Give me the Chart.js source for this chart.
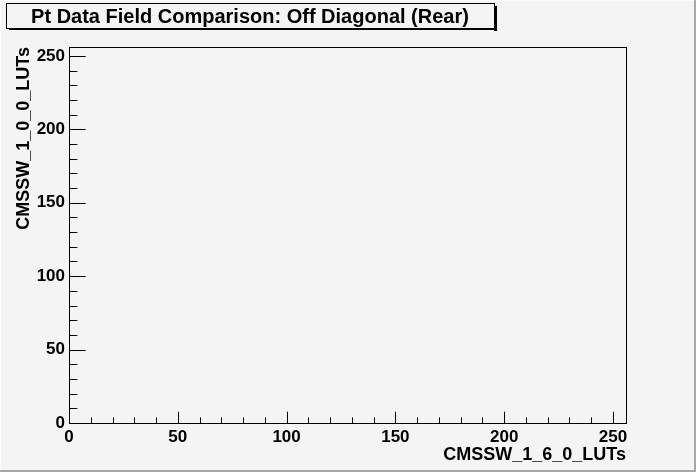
<!DOCTYPE html>
<html lang="en">
<head>
<meta charset="utf-8"/>
<title>Pt Data Field Comparison: Off Diagonal (Rear)</title>
<script src="https://cdn.jsdelivr.net/npm/chart.js"></script>
<style>
  html, body { margin: 0; padding: 0; background: #f4f4f4; }
  canvas { display: block; }
</style>
</head>
<body>
<canvas id="chart" width="696" height="472"></canvas>
<script>
  // histogram content (empty in the reference)
  const title = "Pt Data Field Comparison: Off Diagonal (Rear)";
  const xTitle = "CMSSW_1_6_0_LUTs";
  const yTitle = "CMSSW_1_0_0_LUTs";
  const points = [];
  const axisMin = 0;
  const axisMax = 256;
  const majorTicks = [0, 50, 100, 150, 200, 250];
  const minorTicks = [0, 10, 20, 30, 40, 50, 60, 70, 80, 90, 100, 110, 120, 130, 140,
                      150, 160, 170, 180, 190, 200, 210, 220, 230, 240, 250];

  const W = 696, H = 472;
  const bg = '#f4f4f4';

  Chart.defaults.font.family = '"Liberation Sans", Arial, Helvetica, sans-serif';
  Chart.defaults.color = '#000';

  // ROOT-like canvas: bevel, frame with inner ticks, shadowed title box
  const rootLook = {
    id: 'rootLook',
    beforeDraw(chart) {
      const ctx = chart.ctx;
      ctx.save();
      ctx.fillStyle = bg;
      ctx.fillRect(0, 0, W, H);
      ctx.fillStyle = '#fcfcfc';
      ctx.fillRect(0, 0, W, 1);
      ctx.fillRect(0, 0, 1, H);
      ctx.fillStyle = '#a8a8a8';
      ctx.fillRect(W - 2, 0, 2, H);
      ctx.fillRect(0, H - 2, W, 2);
      ctx.restore();
    },
    afterDraw(chart) {
      const { ctx, chartArea: a, scales: { x, y } } = chart;
      const l = Math.round(a.left), r = Math.round(a.right);
      const t = Math.round(a.top), b = Math.round(a.bottom);
      ctx.save();
      ctx.strokeStyle = '#000';
      ctx.lineWidth = 1;
      ctx.strokeRect(l + 0.5, t + 0.5, r - l, b - t);

      const xLen = 0.03 * (b - t), yLen = 0.03 * (r - l);
      ctx.beginPath();
      minorTicks.forEach(v => {
        const major = majorTicks.includes(v);
        const px = Math.round(x.getPixelForValue(v)) + 0.5;
        ctx.moveTo(px, b);
        ctx.lineTo(px, b - (major ? xLen : xLen / 2));
        const py = Math.round(y.getPixelForValue(v)) + 0.5;
        ctx.moveTo(l, py);
        ctx.lineTo(l + (major ? yLen : yLen / 2), py);
      });
      ctx.stroke();

      // title box with shadow
      const bx = 6, by = 3, bw = 488, bh = 25;
      ctx.fillStyle = '#000';
      ctx.fillRect(bx + 3, by + bh, bw, 2);
      ctx.fillRect(bx + bw, by + 3, 3, bh);
      ctx.fillStyle = bg;
      ctx.fillRect(bx, by, bw, bh);
      ctx.strokeRect(bx + 0.5, by + 0.5, bw, bh);
      ctx.fillStyle = '#000';
      ctx.font = 'bold 20px "Liberation Sans", Arial, Helvetica, sans-serif';
      ctx.textAlign = 'center';
      ctx.textBaseline = 'alphabetic';
      ctx.fillText(title, 250, 23);
      ctx.restore();
    }
  };

  const tickFont = { size: 17, weight: 'bold' };
  const titleFont = { size: 18, weight: 'bold' };

  const chart = new Chart(document.getElementById('chart').getContext('2d'), {
    type: 'scatter',
    data: {
      datasets: [{ data: points, pointRadius: 0 }]
    },
    options: {
      responsive: false,
      animation: false,
      layout: { padding: { top: 47, right: 70, left: 0, bottom: 0 } },
      plugins: { legend: { display: false }, tooltip: { enabled: false } },
      scales: {
        x: {
          type: 'linear',
          min: axisMin,
          max: axisMax,
          grid: { display: false, drawTicks: false },
          border: { display: false },
          afterBuildTicks: s => { s.ticks = majorTicks.map(v => ({ value: v })); },
          afterFit: s => { s.height = 49; },
          ticks: { font: tickFont, padding: 4, maxRotation: 0, autoSkip: false },
          title: { display: true, text: xTitle, align: 'end', font: titleFont, padding: { top: 0, bottom: 6 } }
        },
        y: {
          type: 'linear',
          min: axisMin,
          max: axisMax,
          grid: { display: false, drawTicks: false },
          border: { display: false },
          afterBuildTicks: s => { s.ticks = majorTicks.map(v => ({ value: v })); },
          afterFit: s => { s.width = 69; },
          ticks: { font: tickFont, padding: 4, autoSkip: false },
          title: { display: true, text: yTitle, align: 'end', font: titleFont, padding: { top: 13, bottom: 0 } }
        }
      }
    },
    plugins: [rootLook]
  });
</script>
</body>
</html>
